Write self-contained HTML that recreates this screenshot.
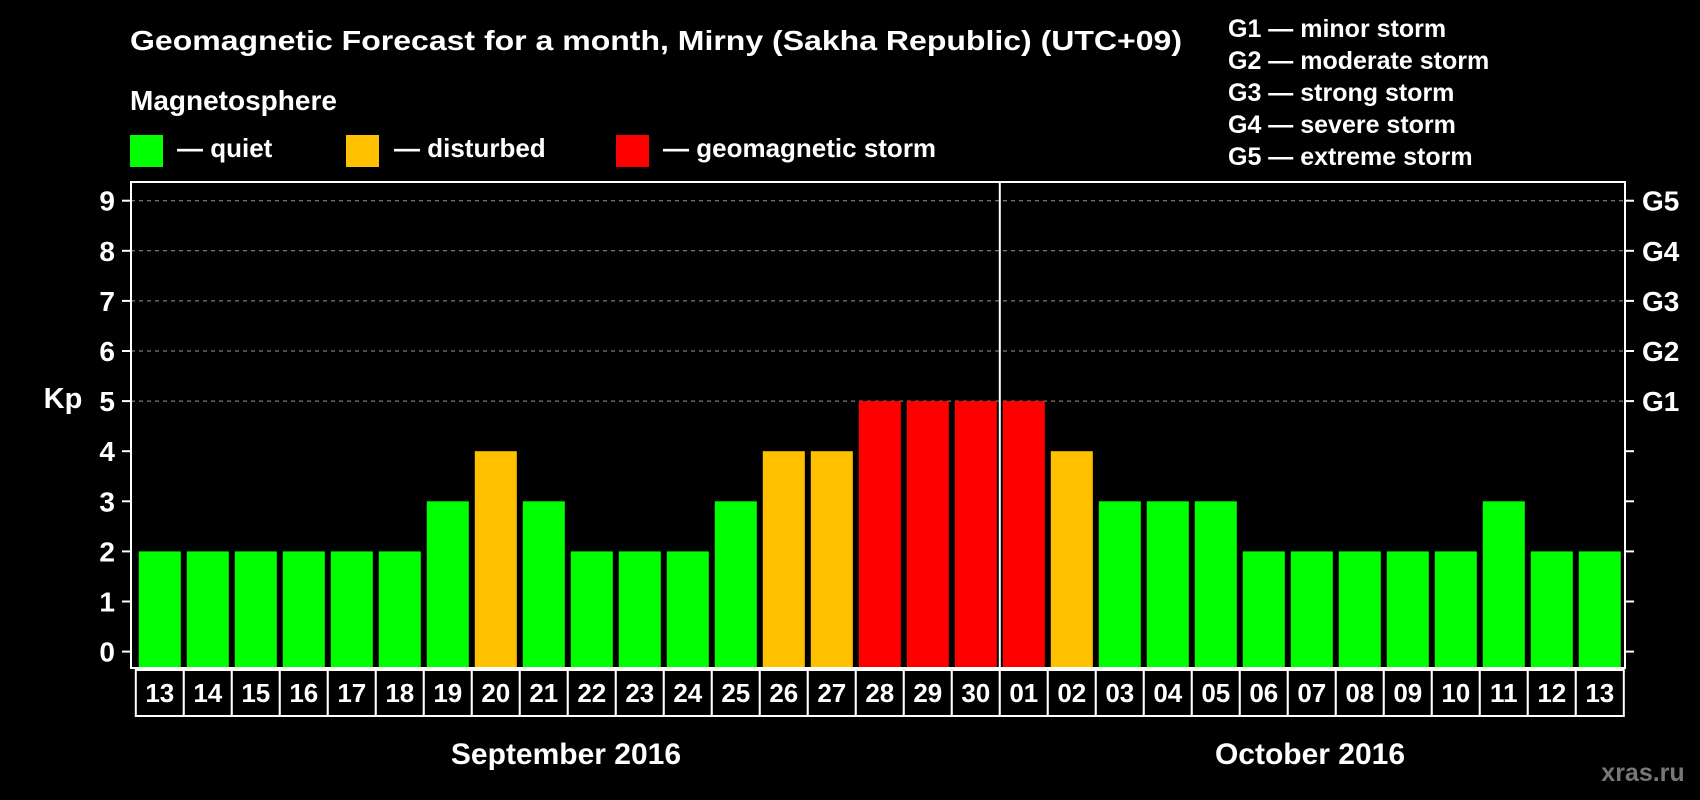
<!DOCTYPE html>
<html><head><meta charset="utf-8"><style>
html,body{margin:0;padding:0;background:#000;}
svg{display:block;font-family:"Liberation Sans",Arial,sans-serif;font-weight:bold;}
</style></head><body>
<svg id="chart" width="1700" height="800" viewBox="0 0 1700 800" xmlns="http://www.w3.org/2000/svg">
<rect x="0" y="0" width="1700" height="800" fill="#000"/>
<text x="130" y="50" fill="#fff" font-size="28" textLength="1052" lengthAdjust="spacingAndGlyphs">Geomagnetic Forecast for a month, Mirny (Sakha Republic) (UTC+09)</text>
<text x="130" y="110" fill="#fff" font-size="28">Magnetosphere</text>
<g>
<rect x="130" y="135" width="33" height="32" fill="#00ff00"/>
<text x="177" y="157" fill="#fff" font-size="26">— quiet</text></g>
<g>
<rect x="346" y="135" width="33" height="32" fill="#ffc000"/>
<text x="394" y="157" fill="#fff" font-size="26">— disturbed</text></g>
<g>
<rect x="616" y="135" width="33" height="32" fill="#ff0000"/>
<text x="663" y="157" fill="#fff" font-size="26">— geomagnetic storm</text></g>
<g fill="#fff" font-size="25">
<text x="1228" y="37">G1 — minor storm</text>
<text x="1228" y="69">G2 — moderate storm</text>
<text x="1228" y="101">G3 — strong storm</text>
<text x="1228" y="133">G4 — severe storm</text>
<text x="1228" y="165">G5 — extreme storm</text>
</g>
<text x="63" y="408" fill="#fff" font-size="29" text-anchor="middle">Kp</text>
<g id="grid"></g><g id="bars"></g><g id="axes"></g><g id="dates"></g>
<text x="566" y="764" fill="#fff" font-size="30" text-anchor="middle">September 2016</text>
<text x="1310" y="764" fill="#fff" font-size="30" text-anchor="middle">October 2016</text>
<text x="1643" y="781" fill="#777" font-size="25" text-anchor="middle">xras.ru</text>
</svg>
<script>
const days = ["13","14","15","16","17","18","19","20","21","22","23","24","25","26","27","28","29","30","01","02","03","04","05","06","07","08","09","10","11","12","13"];
const kpValues = [2,2,2,2,2,2,3,4,3,2,2,2,3,4,4,5,5,5,5,4,3,3,3,2,2,2,2,2,3,2,2];
const yTicks = [0,1,2,3,4,5,6,7,8,9];
const gLabels = ["G1","G2","G3","G4","G5"];
const gLevels = [5,6,7,8,9];
const monthBreakIndex = 18;

(function(){
const NS = "http://www.w3.org/2000/svg";
const pLeft = 131, pRight = 1625, pTop = 182, pBottom = 668;
const y0 = 651.6, unit = 50.1;
const pitch = 48, x0 = 138.8, bw = 42;
function yScale(v){ return y0 - v*unit; }
function xScale(i){ return x0 + i*pitch; }
function colorFor(v){ return v >= 5 ? "#ff0000" : (v >= 4 ? "#ffc000" : "#00ff00"); }
function mk(tag, attrs, parent){ const e=document.createElementNS(NS,tag); for(const k in attrs) e.setAttribute(k,attrs[k]); parent.appendChild(e); return e; }

const grid=document.getElementById("grid"), bars=document.getElementById("bars"), axes=document.getElementById("axes"), dates=document.getElementById("dates");
gLevels.forEach((lv,i)=>{
  const l=mk("line",{x1:pLeft,x2:pRight,y1:yScale(lv),y2:yScale(lv),stroke:"#999","stroke-width":1,"stroke-dasharray":"4,4"},grid);
  
  
  const t=mk("text",{x:1642,y:yScale(lv)+10,fill:"#fff","font-size":28},axes);
  t.textContent=gLabels[i];
  
  
});
kpValues.forEach((v,i)=>{
  const r=mk("rect",{x:xScale(i),y:yScale(v),width:bw,height:pBottom-yScale(v),fill:colorFor(v)},bars);
  
  
});
const frame=mk("rect",{x:pLeft,y:pTop,width:pRight-pLeft,height:pBottom-pTop,fill:"none",stroke:"#fff","stroke-width":2},axes);


const sepX = xScale(monthBreakIndex)-3;
const sep=mk("line",{x1:sepX,x2:sepX,y1:pTop,y2:pBottom,stroke:"#fff","stroke-width":2},axes);


yTicks.forEach(v=>{
  const y=yScale(v);
  const a=mk("line",{x1:122,x2:pLeft,y1:y,y2:y,stroke:"#fff","stroke-width":2},axes);
  
  
  const b=mk("line",{x1:pRight,x2:1634,y1:y,y2:y,stroke:"#fff","stroke-width":2},axes);
  
  
  const t=mk("text",{x:115,y:y+10,fill:"#fff","font-size":28,"text-anchor":"end"},axes);
  t.textContent=String(v);
  
  
});
days.forEach((d,i)=>{
  const bx=xScale(i)-3;
  const c=mk("rect",{x:bx,y:670,width:pitch,height:46,fill:"#000",stroke:"#fff","stroke-width":2},dates);
  
  
  const t=mk("text",{x:bx+pitch/2,y:702,fill:"#fff","font-size":26,"text-anchor":"middle"},dates);
  t.textContent=d;
  
  
});
})();
</script>
</body></html>
